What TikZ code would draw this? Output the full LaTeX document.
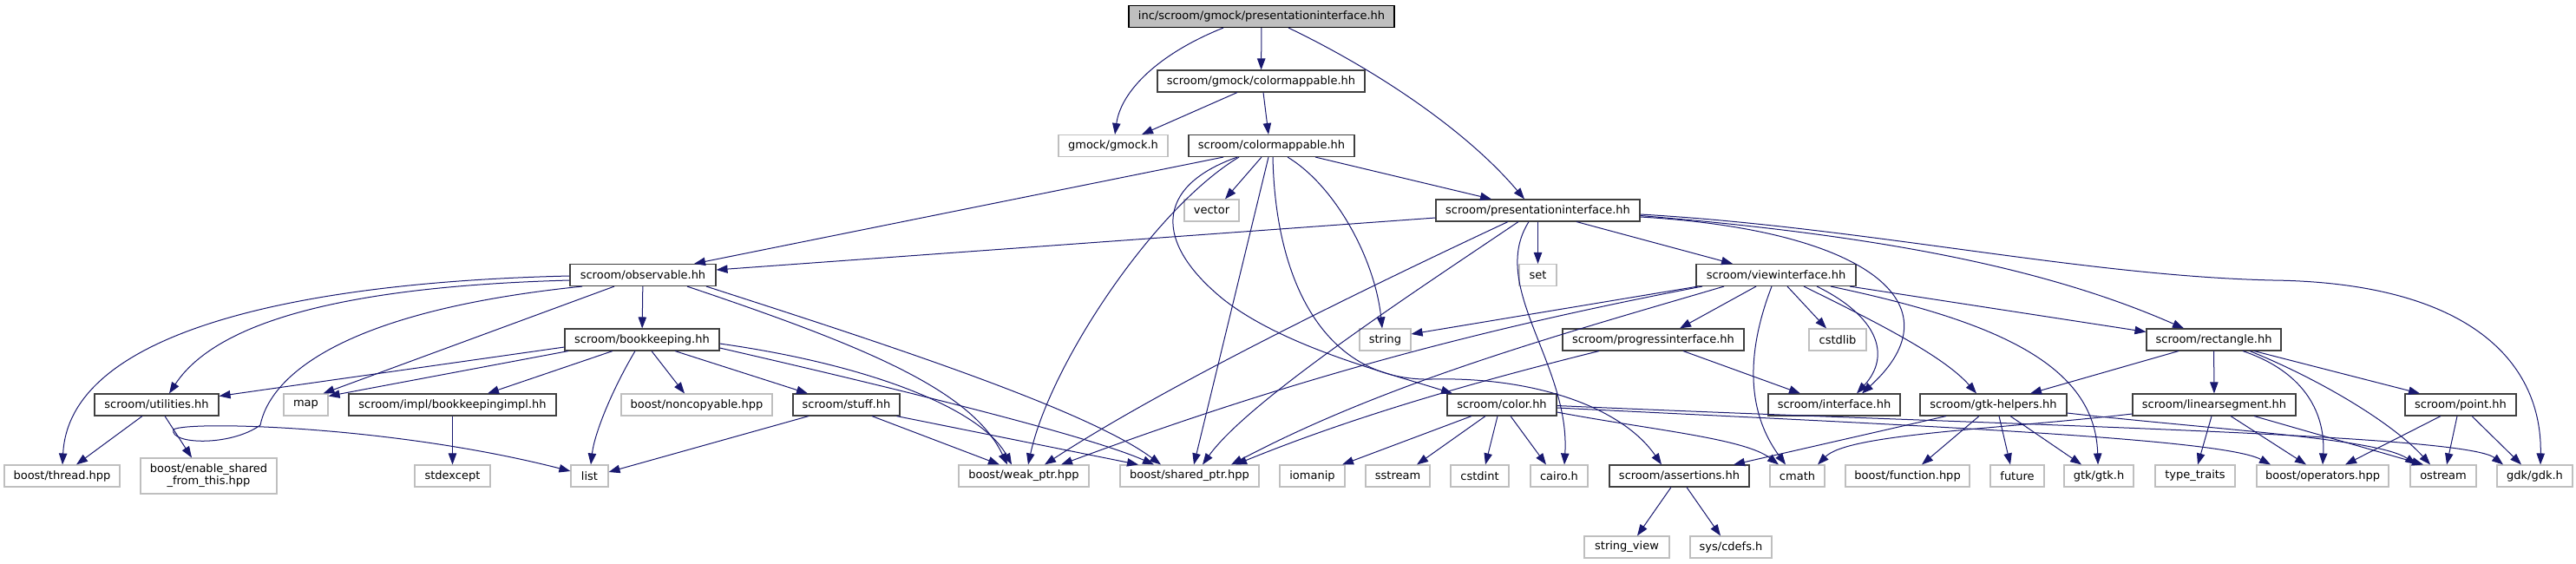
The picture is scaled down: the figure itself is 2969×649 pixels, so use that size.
\documentclass[tikz,border=0pt]{standalone}
\usepackage{fontspec}
\setmainfont{DejaVu Sans}
\usetikzlibrary{arrows.meta,calc}
\definecolor{edgeblue}{HTML}{191970}
\definecolor{sysgray}{HTML}{BFBFBF}
\definecolor{projgray}{HTML}{404040}
\begin{document}
\begin{tikzpicture}[x=0.5pt,y=-0.5pt,
  box/.style={draw, rectangle, inner sep=0pt, minimum height=12.5pt, font=\fontsize{6.5}{7}\selectfont, line width=0.55pt, text=black},
  proj/.style={box, draw=projgray, fill=white},
  sys/.style={box, draw=sysgray, fill=white},
  rootnode/.style={box, draw=black, fill=sysgray},
  bw/.style={minimum width=#1*0.5pt},
  e/.style={draw=edgeblue, line width=0.5pt, -{Triangle[length=6.5pt,width=4.7pt]}}
]
\useasboundingbox (0,0) rectangle (2969,649);
\fill[white] (0,0) rectangle (2969,649);
% nodes
\node[rootnode,bw=306] (root) at (1454,19) {inc/scroom/gmock/presentationinterface.hh};
\node[proj,bw=239] (gcm) at (1453.5,93.5) {scroom/gmock/colormappable.hh};
\node[sys,bw=126] (gmock) at (1283,168) {gmock/gmock.h};
\node[proj,bw=191] (cm) at (1465.5,168) {scroom/colormappable.hh};
\node[sys,bw=63] (vector) at (1396.5,242.5) {vector};
\node[proj,bw=235] (pi) at (1772.5,242.5) {scroom/presentationinterface.hh};
\node[proj,bw=168] (obs) at (741,317) {scroom/observable.hh};
\node[sys,bw=43] (set) at (1772.5,317) {set};
\node[proj,bw=184] (vi) at (2047,317) {scroom/viewinterface.hh};
\node[proj,bw=178] (bk) at (740,391.5) {scroom/bookkeeping.hh};
\node[sys,bw=59] (string) at (1596.5,391.5) {string};
\node[proj,bw=209] (pg) at (1905.5,391.5) {scroom/progressinterface.hh};
\node[sys,bw=66] (cstdlib) at (2118,391.5) {cstdlib};
\node[proj,bw=155] (rect) at (2551.5,391.5) {scroom/rectangle.hh};
\node[proj,bw=143] (util) at (180.5,466.5) {scroom/utilities.hh};
\node[sys,bw=51] (map) at (352.5,466.5) {map};
\node[proj,bw=239] (bki) at (521.5,466.5) {scroom/impl/bookkeepingimpl.hh};
\node[sys,bw=174] (nonc) at (803,466.5) {boost/noncopyable.hpp};
\node[proj,bw=123] (stuff) at (975.5,466.5) {scroom/stuff.hh};
\node[proj,bw=126] (color) at (1731,466.5) {scroom/color.hh};
\node[proj,bw=152] (iface) at (2114,466.5) {scroom/interface.hh};
\node[proj,bw=169] (gtkh) at (2297.5,466.5) {scroom/gtk-helpers.hh};
\node[proj,bw=188] (lseg) at (2552,466.5) {scroom/linearsegment.hh};
\node[proj,bw=128] (point) at (2836,466.5) {scroom/point.hh};
\node[sys,bw=133] (thread) at (71.5,548.5) {boost/thread.hpp};
\node[sys,bw=157,minimum height=20.5pt,align=center] (esft) at (240.5,548.5) {boost/enable\_shared\\\_from\_this.hpp};
\node[sys,bw=87] (stdexcept) at (521.5,548.5) {stdexcept};
\node[sys,bw=43] (list) at (679.5,548.5) {list};
\node[sys,bw=150] (weak) at (1180,548.5) {boost/weak\_ptr.hpp};
\node[sys,bw=160] (shared) at (1371,548.5) {boost/shared\_ptr.hpp};
\node[sys,bw=75] (iomanip) at (1512.5,548.5) {iomanip};
\node[sys,bw=74] (sstream) at (1611,548.5) {sstream};
\node[sys,bw=67] (cstdint) at (1705.5,548.5) {cstdint};
\node[sys,bw=66] (cairo) at (1797,548.5) {cairo.h};
\node[proj,bw=161] (assert) at (1935.5,548.5) {scroom/assertions.hh};
\node[sys,bw=63] (cmath) at (2071.5,548.5) {cmath};
\node[sys,bw=143] (bfunc) at (2198.5,548.5) {boost/function.hpp};
\node[sys,bw=62] (future) at (2325,548.5) {future};
\node[sys,bw=80] (gtk) at (2419,548.5) {gtk/gtk.h};
\node[sys,bw=92] (ttraits) at (2530,548.5) {type\_traits};
\node[sys,bw=152] (bops) at (2677,548.5) {boost/operators.hpp};
\node[sys,bw=76] (ostream) at (2816,548.5) {ostream};
\node[sys,bw=87] (gdk) at (2921.5,548.5) {gdk/gdk.h};
\node[sys,bw=98] (sview) at (1875,630.5) {string\_view};
\node[sys,bw=94] (cdefs) at (1995,630.5) {sys/cdefs.h};
% root
\draw[e] ($(root.south)+(-44,0)$) .. controls (1335,62) and (1292,105) .. ($(gmock.north)+(2,0)$);
\draw[e] (root) -- (gcm);
\draw[e] ($(root.south)+(31,0)$) .. controls (1585,80) and (1690,150) .. ($(pi.north)+(-15.5,0)$);
% gmock colormappable
\draw[e] ($(gcm.south)+(-27.5,0)$) -- ($(gmock.north)+(33,0)$);
\draw[e] ($(gcm.south)+(2.5,0)$) -- ($(cm.north)+(-3.5,0)$);
% colormappable
\draw[e] ($(cm.south)+(-55.5,0)$) -- ($(obs.north)+(59,0)$);
\draw[e] ($(cm.south)+(-11.5,0)$) -- ($(vector.north)+(15.5,0)$);
\draw[e] ($(cm.south)+(50.5,0)$) -- ($(pi.north)+(-53.5,0)$);
\draw[e] ($(cm.south)+(18.5,0)$) .. controls (1540,215) and (1585,300) .. ($(string.north)+(-3.5,0)$);
\draw[e] ($(cm.south)+(-39.5,0)$) .. controls (1330,215) and (1330,280) .. (1410,345) .. controls (1480,400) and (1600,430) .. ($(color.north)+(-57,0)$);
\draw[e] ($(cm.south)+(-37.5,0)$) .. controls (1330,240) and (1210,420) .. ($(weak.north)+(5,0)$);
\draw[e] ($(cm.south)+(-3.5,0)$) -- ($(shared.north)+(5,0)$);
\draw[e] ($(cm.south)+(1.5,0)$) .. controls (1470,330) and (1530,440) .. (1650,437) .. controls (1770,434) and (1870,470) .. ($(assert.north)+(-20.5,0)$);
% presentationinterface
\draw[e] ($(pi.west)+(0,8.5)$) -- ($(obs.east)+(0,-6)$);
\draw[e] ($(pi.south)+(-34.5,0)$) .. controls (1600,320) and (1350,440) .. ($(weak.north)+(24,0)$);
\draw[e] ($(pi.south)+(-22.5,0)$) .. controls (1640,330) and (1440,460) .. ($(shared.north)+(15,0)$);
\draw[e] ($(pi.south)+(-10.5,0)$) .. controls (1715,330) and (1810,420) .. ($(cairo.north)+(6,0)$);
\draw[e] (pi) -- (set);
\draw[e] ($(pi.south)+(44.5,0)$) -- ($(vi.north)+(-50,0)$);
\draw[e] ($(pi.east)+(0,7.5)$) .. controls (2150,265) and (2260,350) .. ($(iface.north)+(32,0)$);
\draw[e] ($(pi.east)+(0,6)$) .. controls (2150,270) and (2350,305) .. ($(rect.north)+(-34.5,0)$);
\draw[e] ($(pi.east)+(0,4.5)$) .. controls (2150,262) and (2400,318) .. (2620,323) .. controls (2850,326) and (2930,420) .. ($(gdk.north)+(6.5,0)$);
% viewinterface
\draw[e] ($(vi.south)+(-90,0)$) -- ($(string.east)+(0,-6.5)$);
\draw[e] ($(vi.south)+(-85,0)$) .. controls (1700,380) and (1480,440) .. ($(weak.north)+(43,0)$);
\draw[e] ($(vi.south)+(-60,0)$) .. controls (1800,385) and (1600,440) .. ($(shared.north)+(48,0)$);
\draw[e] ($(vi.south)+(-23,0)$) -- ($(pg.north)+(30.5,0)$);
\draw[e] ($(vi.south)+(-5,0)$) .. controls (2015,400) and (2010,470) .. ($(cmath.north)+(-13.5,0)$);
\draw[e] ($(vi.south)+(13,0)$) -- ($(cstdlib.north)+(-13,0)$);
\draw[e] ($(vi.south)+(47,0)$) .. controls (2165,365) and (2180,410) .. ($(iface.north)+(26,0)$);
\draw[e] ($(vi.south)+(32,0)$) .. controls (2160,370) and (2240,410) .. ($(gtkh.north)+(-19.5,0)$);
\draw[e] ($(vi.south)+(63,0)$) .. controls (2300,370) and (2415,420) .. ($(gtk.north)+(-1,0)$);
\draw[e] ($(vi.south)+(85,0)$) -- ($(rect.west)+(0,-9)$);
% progressinterface
\draw[e] ($(pg.south)+(-62.5,0)$) .. controls (1700,440) and (1560,480) .. ($(shared.north)+(53,0)$);
\draw[e] ($(pg.south)+(34.5,0)$) -- ($(iface.north)+(-39,0)$);
% observable
\draw[e] ($(obs.west)+(0,1)$) .. controls (350,325) and (80,380) .. ($(thread.north)+(0.5,0)$);
\draw[e] ($(obs.west)+(0,6)$) .. controls (400,330) and (250,370) .. ($(util.north)+(14.5,0)$);
\draw[e] ($(obs.south)+(-70,0)$) .. controls (380,360) and (310,440) .. (300,490) .. controls (265,515) and (195,512) .. (200,495) .. controls (215,485) and (450,490) .. ($(list.west)+(0,-5.5)$);
\draw[e] ($(obs.south)+(-33,0)$) -- ($(map.north)+(20,0)$);
\draw[e] (obs) -- (bk);
\draw[e] ($(obs.south)+(51,0)$) .. controls (1000,400) and (1120,450) .. ($(weak.north)+(-19,0)$);
\draw[e] ($(obs.south)+(73,0)$) .. controls (1000,390) and (1250,470) .. ($(shared.north)+(-33,0)$);
% bookkeeping
\draw[e] ($(bk.west)+(0,8.5)$) -- ($(util.east)+(0,-10)$);
\draw[e] ($(bk.south)+(-85,0)$) -- ($(map.east)+(0,-10)$);
\draw[e] ($(bk.south)+(-34,0)$) -- ($(bki.north)+(40.5,0)$);
\draw[e] ($(bk.south)+(-8,0)$) .. controls (705,450) and (685,500) .. ($(list.north)+(1.5,0)$);
\draw[e] ($(bk.south)+(11,0)$) -- ($(nonc.north)+(-14,0)$);
\draw[e] ($(bk.south)+(38,0)$) -- ($(stuff.north)+(-44.5,0)$);
\draw[e] ($(bk.east)+(0,4.5)$) .. controls (1000,420) and (1130,470) .. ($(weak.north)+(-14,0)$);
\draw[e] ($(bk.east)+(0,9.5)$) .. controls (1000,440) and (1250,500) .. ($(shared.north)+(-41,0)$);
% utilities, impl, stuff
\draw[e] ($(util.south)+(-16.5,0)$) -- ($(thread.north)+(16.5,0)$);
\draw[e] ($(util.south)+(9.5,0)$) -- ($(esft.north)+(-19.5,0)$);
\draw[e] (bki) -- (stdexcept);
\draw[e] ($(stuff.south)+(-43.5,0)$) -- ($(list.east)+(0,-4.5)$);
\draw[e] ($(stuff.south)+(29.5,0)$) -- ($(weak.north)+(-28,0)$);
\draw[e] ($(stuff.south)+(58,0)$) -- ($(shared.north)+(-59,0)$);
% color
\draw[e] ($(color.south)+(-35,0)$) -- ($(iomanip.north)+(34.5,0)$);
\draw[e] ($(color.south)+(-19,0)$) -- ($(sstream.north)+(22,0)$);
\draw[e] ($(color.south)+(-5,0)$) -- ($(cstdint.north)+(6.5,0)$);
\draw[e] ($(color.south)+(10,0)$) -- ($(cairo.north)+(-15,0)$);
\draw[e] ($(color.east)+(0,8.5)$) .. controls (1900,495) and (2010,505) .. ($(cmath.north)+(-21.5,0)$);
\draw[e] ($(color.east)+(0,3.5)$) .. controls (2200,490) and (2560,505) .. ($(bops.north)+(-60,0)$);
\draw[e] ($(color.east)+(0,1)$) .. controls (2300,490) and (2840,500) .. ($(gdk.north)+(-36.5,0)$);
% assertions
\draw[e] ($(assert.south)+(-9.5,0)$) -- ($(sview.north)+(12,0)$);
\draw[e] ($(assert.south)+(8.5,0)$) -- ($(cdefs.north)+(-12,0)$);
% gtk-helpers
\draw[e] ($(gtkh.south)+(-54.5,0)$) -- ($(assert.north)+(62.5,0)$);
\draw[e] ($(gtkh.south)+(-16.5,0)$) -- ($(bfunc.north)+(16.5,0)$);
\draw[e] ($(gtkh.south)+(6.5,0)$) -- ($(future.north)+(-8,0)$);
\draw[e] ($(gtkh.south)+(19.5,0)$) -- ($(gtk.north)+(-20,0)$);
\draw[e] ($(gtkh.east)+(0,9.5)$) .. controls (2550,495) and (2740,505) .. ($(ostream.north)+(-31,0)$);
% rectangle
\draw[e] ($(rect.south)+(-40.5,0)$) -- ($(gtkh.north)+(42.5,0)$);
\draw[e] (rect) -- (lseg);
\draw[e] ($(rect.south)+(33.5,0)$) .. controls (2660,430) and (2680,480) .. ($(bops.north)+(0,0)$);
\draw[e] ($(rect.south)+(41.5,0)$) .. controls (2680,440) and (2760,490) .. ($(ostream.north)+(-15,0)$);
\draw[e] ($(rect.south)+(46.5,0)$) -- ($(point.north)+(-47,0)$);
% linearsegment
\draw[e] ($(lseg.west)+(0,10.5)$) .. controls (2300,495) and (2130,500) .. ($(cmath.north)+(23.5,0)$);
\draw[e] ($(lseg.south)+(-3,0)$) -- ($(ttraits.north)+(3,0)$);
\draw[e] ($(lseg.south)+(19,0)$) -- ($(bops.north)+(-19,0)$);
\draw[e] ($(lseg.south)+(46,0)$) -- ($(ostream.north)+(-23,0)$);
% point
\draw[e] ($(point.south)+(-23,0)$) -- ($(bops.north)+(26,0)$);
\draw[e] ($(point.south)+(-4,0)$) -- ($(ostream.north)+(4,0)$);
\draw[e] ($(point.south)+(13,0)$) -- ($(gdk.north)+(-15.5,0)$);
\end{tikzpicture}
\end{document}
